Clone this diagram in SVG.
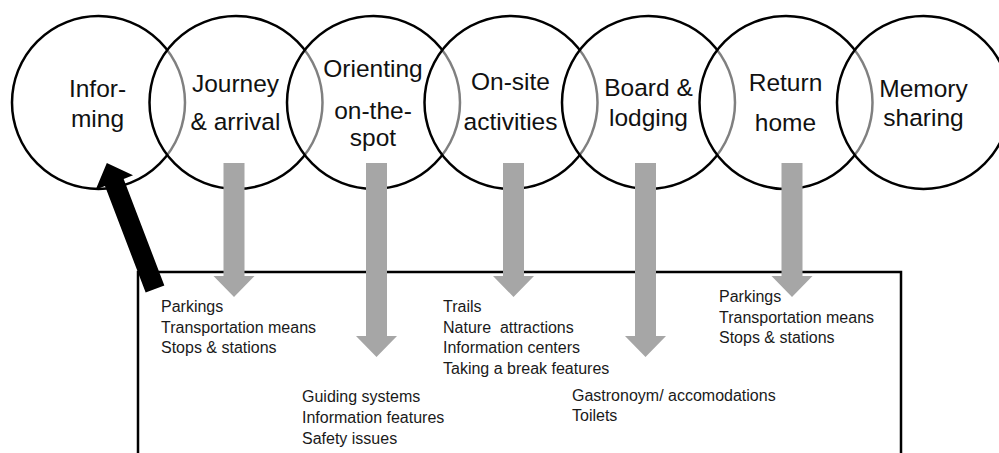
<svg xmlns="http://www.w3.org/2000/svg" width="999" height="453" viewBox="0 0 999 453">
  <style>
    .stage { fill: #ffffff; fill-opacity: 0.5; stroke: #000000; stroke-width: 2.5; }
    .stage-label { font-family: "Liberation Sans", Arial, sans-serif; font-size: 24.5px; fill: #111111; text-anchor: middle; }
    .item { font-family: "Liberation Sans", Arial, sans-serif; font-size: 16px; fill: #1a1a1a; }
    .box { fill: none; stroke: #000000; stroke-width: 2.5; }
    .feed { fill: #a6a6a6; }
    .loop { fill: #000000; }
  </style>
  <defs>
    <!-- grey downward arrows, tip at local (0,0) -->
    <polygon id="arrow-short" points="-10.5,-134 10.5,-134 10.5,-21 20.5,-21 0,0 -20.5,-21 -10.5,-21"/>
    <polygon id="arrow-long" points="-10.5,-194 10.5,-194 10.5,-21 20.5,-21 0,0 -20.5,-21 -10.5,-21"/>
  </defs>

  <rect width="999" height="453" fill="#ffffff"/>

  <!-- journey stages -->
  <g id="informing">
    <circle class="stage" cx="98.5" cy="102.5" r="86.5"/>
    <text class="stage-label" x="97.5" y="97">Infor-</text>
    <text class="stage-label" x="97.5" y="127">ming</text>
  </g>
  <g id="journey-arrival">
    <circle class="stage" cx="236" cy="102.5" r="86.5"/>
    <text class="stage-label" x="235.5" y="92">Journey</text>
    <text class="stage-label" x="235.5" y="130">&amp; arrival</text>
  </g>
  <g id="orienting">
    <circle class="stage" cx="373.5" cy="102.5" r="86.5"/>
    <text class="stage-label" x="373" y="77">Orienting</text>
    <text class="stage-label" x="373" y="119">on-the-</text>
    <text class="stage-label" x="373" y="146">spot</text>
  </g>
  <g id="on-site">
    <circle class="stage" cx="511" cy="102.5" r="86.5"/>
    <text class="stage-label" x="510.5" y="90">On-site</text>
    <text class="stage-label" x="510.5" y="130">activities</text>
  </g>
  <g id="board-lodging">
    <circle class="stage" cx="648.5" cy="102.5" r="86.5"/>
    <text class="stage-label" x="648.5" y="96">Board &amp;</text>
    <text class="stage-label" x="648.5" y="126">lodging</text>
  </g>
  <g id="return-home">
    <circle class="stage" cx="786" cy="102.5" r="86.5"/>
    <text class="stage-label" x="785.5" y="91">Return</text>
    <text class="stage-label" x="785.5" y="131">home</text>
  </g>
  <g id="memory-sharing">
    <circle class="stage" cx="923.5" cy="102.5" r="86.5"/>
    <text class="stage-label" x="923.5" y="97">Memory</text>
    <text class="stage-label" x="923.5" y="126">sharing</text>
  </g>

  <!-- infrastructure box -->
  <g id="infrastructure">
    <rect class="box" x="138" y="272" width="763" height="200"/>
  </g>

  <!-- connectors -->
  <g id="connectors">
    <use href="#arrow-short" class="feed" x="234" y="297"/>
    <use href="#arrow-long" class="feed" x="376.5" y="357"/>
    <use href="#arrow-short" class="feed" x="513.5" y="297"/>
    <use href="#arrow-long" class="feed" x="645.5" y="357"/>
    <use href="#arrow-short" class="feed" x="792" y="297"/>
    <!-- feedback arrow back to informing -->
    <polygon class="loop" transform="translate(155,289) rotate(-20.9)"
             points="-10,0 10,0 10,-114 20,-114 0,-135 -20,-114 -10,-114"/>
  </g>

  <!-- infrastructure items -->
  <g id="items-journey">
    <text class="item" x="161" y="312">Parkings</text>
    <text class="item" x="161" y="332.5">Transportation means</text>
    <text class="item" x="161" y="353">Stops &amp; stations</text>
  </g>
  <g id="items-orienting">
    <text class="item" x="302" y="402">Guiding systems</text>
    <text class="item" x="302" y="423">Information features</text>
    <text class="item" x="302" y="444">Safety issues</text>
  </g>
  <g id="items-on-site">
    <text class="item" x="443" y="312">Trails</text>
    <text class="item" x="443" y="332.5" xml:space="preserve">Nature  attractions</text>
    <text class="item" x="443" y="353">Information centers</text>
    <text class="item" x="443" y="373.5">Taking a break features</text>
  </g>
  <g id="items-board">
    <text class="item" x="572" y="401">Gastronoym/ accomodations</text>
    <text class="item" x="572" y="421">Toilets</text>
  </g>
  <g id="items-return">
    <text class="item" x="719" y="302">Parkings</text>
    <text class="item" x="719" y="322.5">Transportation means</text>
    <text class="item" x="719" y="343">Stops &amp; stations</text>
  </g>
</svg>
